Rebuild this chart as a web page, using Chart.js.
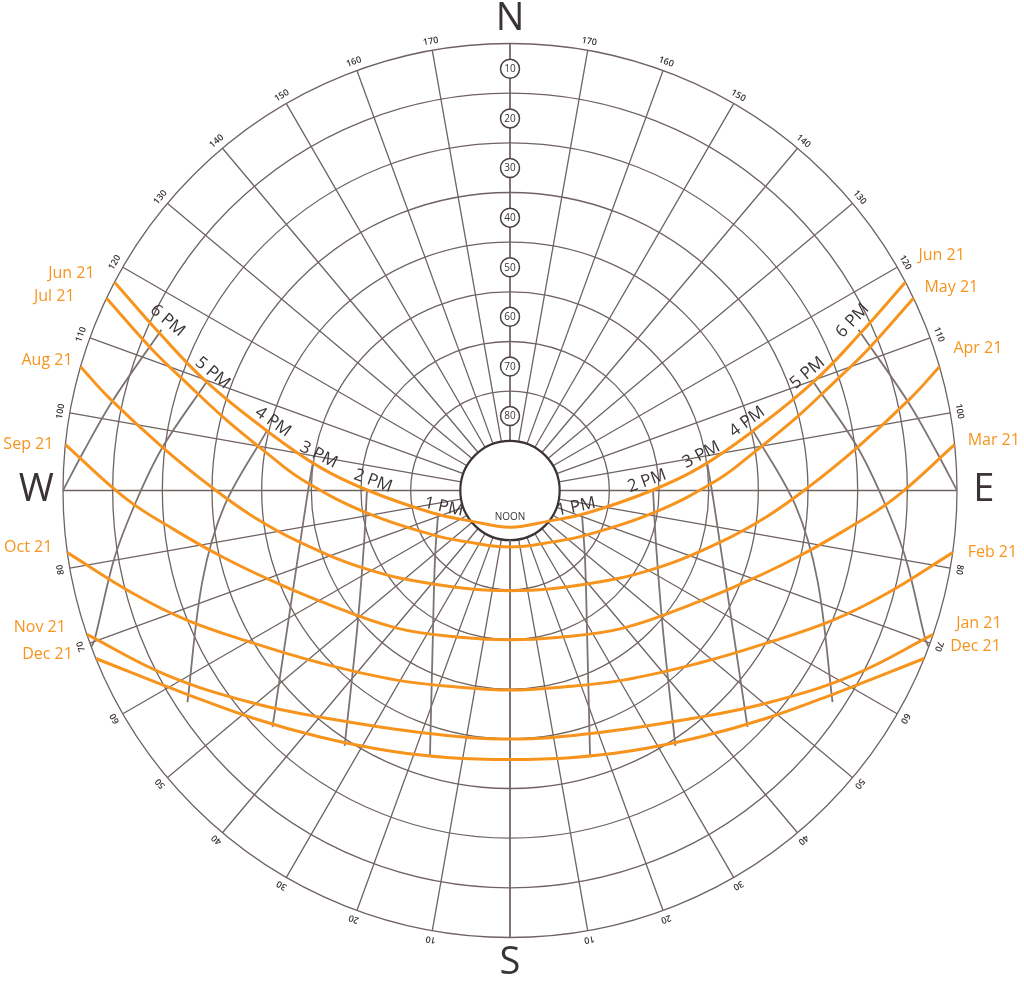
<!DOCTYPE html>
<html><head><meta charset="utf-8">
<script src="https://cdn.jsdelivr.net/npm/chart.js@4.4.0/dist/chart.umd.min.js"></script>
<style>html,body{margin:0;padding:0;background:#fff}#wrap{width:1024px;height:987px;position:relative}</style>
</head><body><div id="wrap"><canvas id="c"></canvas></div>
<script>
// ---------------- DATA ----------------
const ALT_CIRCLES = [0, 10, 20, 30, 40, 50, 60, 70];
const INNER_ALT = 80;
const ALT_LABELS = ['10', '20', '30', '40', '50', '60', '70', '80'];
const ALT_LABEL_AT = [5, 15, 25, 35, 45, 55, 65, 75];
const AZ_LINES = [0, 10, 20, 30, 40, 50, 60, 70, 80, 90, 100, 110, 120, 130, 140, 150, 160, 170, 180];
const AZ_TICKS = [10, 20, 30, 40, 50, 60, 70, 80, 100, 110, 120, 130, 140, 150, 160, 170];
const COMPASS = ['N', 'W', 'S', 'E'];

const DATES_WEST = ['Jun 21', 'Jul 21', 'Aug 21', 'Sep 21', 'Oct 21', 'Nov 21', 'Dec 21'];
const DATES_EAST = ['Jun 21', 'May 21', 'Apr 21', 'Mar 21', 'Feb 21', 'Jan 21', 'Dec 21'];

// Sun paths (west half, horizon -> noon): azimuth from south (deg), altitude (deg)
const JUN_AZ  = [117.8, 114.2, 109.7, 103.8, 97.0, 90.2, 73.7, 52.7, 0];
const JUN_ALT = [0, 12.6, 25.1, 39.6, 51.4, 61.2, 73.8, 79.9, 82.6];
const MAY_AZ  = [115.5, 111.5, 108.4, 104.4, 98.8, 92.9, 81.1, 60.0, 39.9, 0];
const MAY_ALT = [0, 12.6, 21.4, 30.3, 40.4, 48.2, 60.8, 72.1, 76.5, 78.6];
const APR_AZ  = [106.1, 103.0, 97.1, 90.5, 84.3, 76.2, 61.2, 39.5, 0];
const APR_ALT = [0, 7.2, 19.5, 30.1, 37.9, 46.4, 57.1, 65.6, 69.8];
const MAR_AZ  = [95.9, 88.7, 83.3, 76.95, 69.55, 59.8, 39.4, 17.7, 0];
const MAR_ALT = [0, 12.8, 22.0, 30.6, 38.4, 45.7, 54.1, 58.9, 59.9];
const FEB_AZ  = [82.0, 74.8, 68.2, 59.3, 47.8, 30.8, 13.4, 0];
const FEB_ALT = [0, 11.2, 19.8, 29.8, 38.3, 45.5, 49.2, 49.8];
const JAN_AZ  = [71.2, 61.7, 50.4, 38.8, 18.9, 0];
const JAN_ALT = [0, 11.5, 22.8, 31.1, 38.3, 39.9];
const DEC_AZ  = [67.9, 57.8, 48.5, 37.6, 24.7, 12.7, 0];
const DEC_ALT = [0, 13.0, 20.8, 27.3, 32.2, 34.8, 35.8];

// Hour lines (west half, from June path downward)
const HOUR_LABELS = ['1 PM', '2 PM', '3 PM', '4 PM', '5 PM', '6 PM'];
const H1_AZ  = [70.5, 47.2, 27.3, 16.7];          const H1_ALT = [74.6, 69.4, 56.1, 33.9];
const H2_AZ  = [90.2, 69.5, 47.6, 32.9];          const H2_ALT = [61.2, 58.6, 48.3, 28.7];
const H3_AZ  = [97.7, 87.3, 60.9, 45.1];          const H3_ALT = [49.9, 49.0, 39.2, 22.5];
const H4_AZ  = [103.8, 87.1, 73.7, 56.7];         const H4_ALT = [39.6, 32.5, 25.5, 12.3];
const H5_AZ  = [109.7, 97.1, 88.5, 80.3, 70.2, 69.5]; const H5_ALT = [25.1, 19.5, 14.8, 9.2, 1.1, 0];
const H6_AZ  = [114.8, 102.4, 95.4, 90];          const H6_ALT = [12.7, 7.8, 3.9, 0];
const NOON_AZ = [0, 0];                           const NOON_ALT = [80, 35.8];

// ---------------- STYLE ----------------
const ORANGE = '#F7941E';
const GRID = '#6e6361';
const HOURC = '#7d7372';
const TEXT = '#3a3434';
const FONT = '"Open Sans", "Noto Sans", sans-serif';
const DATE_OFF_W = [[-20, -9], [-32, -2], [-8, -6], [-12, 0], [-15, -5], [-21, -7], [-23, -4]];
const DATE_OFF_E = [[13, -27], [11, -11], [14, -18], [13, -4], [15, 0], [23, -11], [26, -12]];
const HOUR_ROT_W = [12, 20, 27, 35, 40, 40];
const HOUR_ROT_E = [-12, -20, -27, -36, -40, -47];

// ---------------- BUILD ----------------
function proj(az, alt, side) {            // side: -1 west, +1 east
  const r = 90 - alt, a = az * Math.PI / 180;
  return { x: side * r * Math.sin(a), y: -r * Math.cos(a) };
}
function fullPath(azs, alts) {
  const w = azs.map((a, i) => proj(a, alts[i], -1));
  const e = [];
  for (let i = azs.length - 2; i >= 0; i--) e.push(proj(azs[i], alts[i], 1));
  return w.concat(e);
}
const PATHS = [[JUN_AZ, JUN_ALT], [MAY_AZ, MAY_ALT], [APR_AZ, APR_ALT], [MAR_AZ, MAR_ALT],
               [FEB_AZ, FEB_ALT], [JAN_AZ, JAN_ALT], [DEC_AZ, DEC_ALT]];
const HOURS = [[H1_AZ, H1_ALT], [H2_AZ, H2_ALT], [H3_AZ, H3_ALT], [H4_AZ, H4_ALT], [H5_AZ, H5_ALT], [H6_AZ, H6_ALT]];

const datasets = [];
PATHS.forEach((p, i) => datasets.push({
  label: DATES_WEST[i], data: fullPath(p[0], p[1]), showLine: true, borderColor: ORANGE,
  borderWidth: 3, pointRadius: 0, tension: 0.4, order: 0
}));
HOURS.forEach((h, i) => [-1, 1].forEach(side => datasets.push({
  label: HOUR_LABELS[i], data: h[0].map((a, k) => proj(a, h[1][k], side)), showLine: true,
  borderColor: HOURC, borderWidth: 1.8, pointRadius: 0, tension: 0.35, order: 1
})));
datasets.push({ label: 'noon', data: NOON_AZ.map((a, k) => proj(a, NOON_ALT[k], 1)), showLine: true,
  borderColor: HOURC, borderWidth: 1.8, pointRadius: 0, order: 1 });

function px(chart, p) { return { x: chart.scales.x.getPixelForValue(p.x), y: chart.scales.y.getPixelForValue(p.y) }; }

const gridPlugin = {
  id: 'sunGrid',
  beforeDatasetsDraw(chart) {
    const ctx = chart.ctx;
    const c = px(chart, { x: 0, y: 0 });
    const unit = chart.scales.x.getPixelForValue(1) - c.x;
    ctx.save();
    ctx.strokeStyle = GRID; ctx.lineWidth = 1.3;
    ALT_CIRCLES.forEach(a => { ctx.beginPath(); ctx.arc(c.x, c.y, (90 - a) * unit, 0, Math.PI * 2); ctx.stroke(); });
    AZ_LINES.forEach(az => [-1, 1].forEach(side => {
      const p0 = px(chart, proj(az, INNER_ALT, side)), p1 = px(chart, proj(az, 0, side));
      ctx.beginPath(); ctx.moveTo(p0.x, p0.y); ctx.lineTo(p1.x, p1.y); ctx.stroke();
    }));
    // inner circle
    ctx.beginPath(); ctx.arc(c.x, c.y, (90 - INNER_ALT) * unit, 0, Math.PI * 2);
    ctx.fillStyle = '#fff'; ctx.fill(); ctx.strokeStyle = '#3b3333'; ctx.lineWidth = 2.2; ctx.stroke();
    // altitude labels
    ctx.font = '10px ' + FONT; ctx.textAlign = 'center'; ctx.textBaseline = 'middle';
    ALT_LABELS.forEach((t, i) => {
      const p = px(chart, proj(180, ALT_LABEL_AT[i], 1));
      ctx.beginPath(); ctx.arc(p.x, p.y, 9.5, 0, Math.PI * 2);
      ctx.fillStyle = '#fff'; ctx.fill(); ctx.strokeStyle = '#4a4040'; ctx.lineWidth = 1.5; ctx.stroke();
      ctx.fillStyle = TEXT; ctx.fillText(t, p.x, p.y + 0.5);
    });
    ctx.restore();
  },
  afterDatasetsDraw(chart) {
    const ctx = chart.ctx;
    ctx.save();
    ctx.textAlign = 'center'; ctx.textBaseline = 'middle';
    // azimuth ticks
    ctx.font = '600 9px ' + FONT; ctx.fillStyle = TEXT;
    AZ_TICKS.forEach(t => [-1, 1].forEach(side => {
      const p = px(chart, proj(t, -1.9, side));
      ctx.save(); ctx.translate(p.x, p.y); ctx.rotate(side * (180 - t) * Math.PI / 180);
      ctx.fillText(String(t), 0, 0); ctx.restore();
    }));
    // compass
    ctx.font = '38px ' + FONT; ctx.fillStyle = TEXT;
    const cp = [proj(180, -5, 1), proj(90, -5.4, -1), proj(0, -5.2, 1), proj(90, -5.4, 1)];
    COMPASS.forEach((t, i) => { const p = px(chart, cp[i]); ctx.fillText(t, p.x, p.y); });
    // NOON
    ctx.font = '500 10px ' + FONT;
    const np = px(chart, proj(0, 84.7, 1)); ctx.fillText('NOON', np.x, np.y);
    // hour labels
    ctx.font = '17px ' + FONT; ctx.fillStyle = TEXT;
    HOURS.forEach((h, i) => {
      [-1, 1].forEach(side => {
        const p = px(chart, proj(h[0][0], h[1][0], side));
        const ox = side < 0 ? 6 : -6, oy = -9;
        ctx.save(); ctx.translate(p.x + ox, p.y + oy);
        ctx.rotate((side < 0 ? HOUR_ROT_W[i] : HOUR_ROT_E[i]) * Math.PI / 180);
        ctx.fillText(HOUR_LABELS[i], 0, 0); ctx.restore();
      });
    });
    // date labels
    ctx.font = '16px ' + FONT; ctx.fillStyle = ORANGE;
    PATHS.forEach((p, i) => {
      const w = px(chart, proj(p[0][0], p[1][0], -1));
      ctx.textAlign = 'right'; ctx.fillText(DATES_WEST[i], w.x + DATE_OFF_W[i][0], w.y + DATE_OFF_W[i][1]);
      const e = px(chart, proj(p[0][0], p[1][0], 1));
      ctx.textAlign = 'left'; ctx.fillText(DATES_EAST[i], e.x + DATE_OFF_E[i][0], e.y + DATE_OFF_E[i][1]);
    });
    ctx.restore();
  }
};

new Chart(document.getElementById('c'), {
  type: 'scatter',
  data: { datasets },
  options: {
    responsive: true, maintainAspectRatio: false, animation: false,
    layout: { padding: { left: 63, right: 67, top: 44, bottom: 50 } },
    scales: { x: { type: 'linear', min: -90, max: 90, display: false },
              y: { type: 'linear', min: -90, max: 90, display: false } },
    plugins: { legend: { display: false }, tooltip: { enabled: false } },
    elements: { point: { radius: 0 } }
  },
  plugins: [gridPlugin]
});
</script></body></html>
